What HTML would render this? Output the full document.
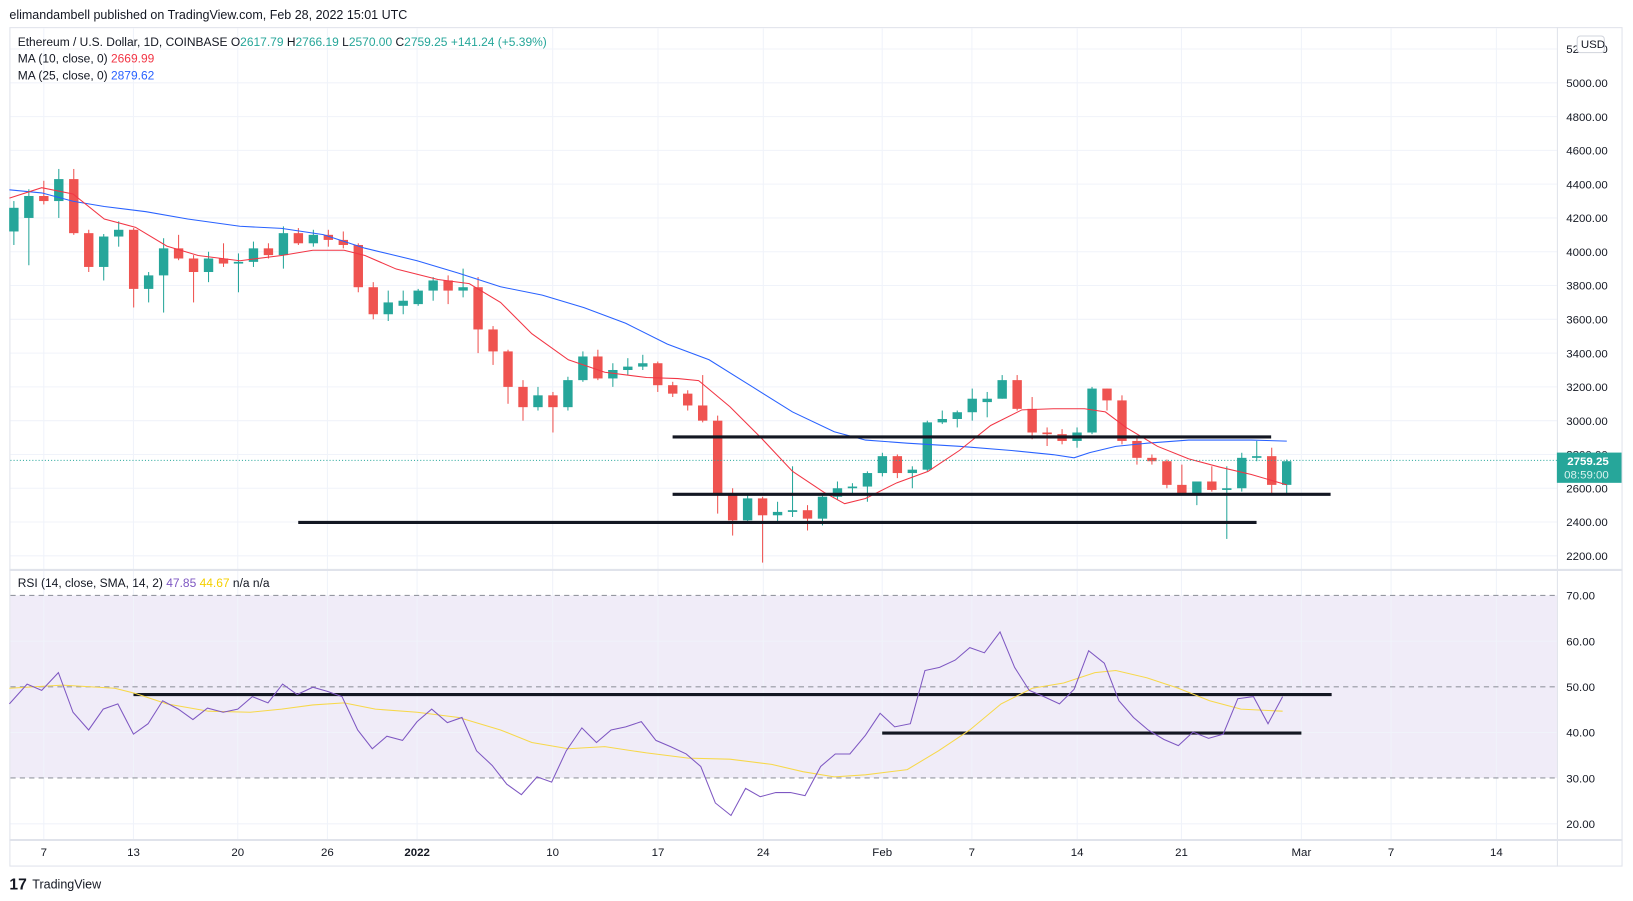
<!DOCTYPE html>
<html><head><meta charset="utf-8"><style>
html,body{margin:0;padding:0;background:#fff;}
svg{display:block;font-family:"Liberation Sans",sans-serif;}
</style></head><body>
<svg id="s" width="1633" height="901" viewBox="0 0 1566 864" preserveAspectRatio="none" xmlns="http://www.w3.org/2000/svg" xml:space="preserve">
<rect width="1566" height="864" fill="#fff"/>
<text x="9" y="18" font-size="12" fill="#131722">elimandambell published on TradingView.com, Feb 28, 2022 15:01 UTC</text>
<rect x="9.5" y="26.5" width="1546" height="804" fill="#fff" stroke="#e0e3eb"/>
<rect x="10" y="571" width="1483" height="175" fill="#f0ecf8"/>
<g id="grid" stroke="#f0f3fa" stroke-width="1"></g>
<line x1="1493.5" y1="26" x2="1493.5" y2="831" stroke="#e0e3eb"/>
<line x1="9" y1="546.5" x2="1556" y2="546.5" stroke="#e0e3eb" stroke-width="2"/>
<line x1="9" y1="805.5" x2="1556" y2="805.5" stroke="#e0e3eb" stroke-width="2"/>
<g stroke="#9598a1" stroke-dasharray="5,4" stroke-width="1">
<line x1="10" y1="571" x2="1493" y2="571"/><line x1="10" y1="658.6" x2="1493" y2="658.6"/><line x1="10" y1="746" x2="1493" y2="746"/>
</g>
<g id="axis" font-size="11" fill="#131722"></g>
<g id="candles"></g>
<polyline fill="none" stroke="#2962ff" stroke-width="1" points="9,182 40,185 70,193 100,198 140,203 180,210 230,217 270,219 310,225 350,238 400,250 440,262 480,275 520,283 560,295 600,310 640,330 680,345 720,370 760,395 800,414 830,422 870,425 920,428 970,432 1010,436 1030,439 1045,434 1070,428 1100,425 1140,422 1200,422 1234,423"/>
<polyline fill="none" stroke="#f23645" stroke-width="1" points="9,190 40,180 70,186 100,210 130,218 160,236 190,245 230,250 270,245 300,240 330,240 350,245 380,258 420,268 450,272 480,290 510,320 545,345 580,357 620,362 650,363 670,365 700,390 730,420 760,452 790,472 810,483 830,478 860,463 890,452 920,432 950,408 980,393 1010,392 1040,392 1060,395 1080,410 1110,428 1140,440 1170,448 1200,455 1234,465"/>
<line x1="10" y1="441.5" x2="1493" y2="441.5" stroke="#26a69a" stroke-dasharray="1,2"/>
<g stroke="#131722" stroke-width="3">
<line x1="645" y1="419" x2="1219" y2="419"/>
<line x1="645" y1="474" x2="1276" y2="474"/>
<line x1="286" y1="501" x2="1205" y2="501"/>
<line x1="128" y1="666" x2="1277" y2="666"/>
<line x1="846" y1="703" x2="1248" y2="703"/>
</g>
<polyline fill="none" stroke="#f7d84a" stroke-width="1" points="9,660 60,657 110,660 130,665 160,675 200,682 240,683 270,680 300,676 330,674 360,680 400,683 440,688 480,700 510,712 545,718 580,716 620,722 660,727 700,728 740,733 770,740 800,745 830,743 870,738 900,720 930,700 960,675 990,660 1020,655 1050,645 1070,643 1100,650 1130,660 1160,672 1190,680 1230,682"/>
<polyline fill="none" stroke="#7e57c2" stroke-width="1" points="9,675 26,656 40,662 56,645 70,683 85,700 99,680 113,675 128,704 142,694 156,672 171,680 185,690 199,679 214,683 228,680 242,668 257,674 271,656 285,666 300,659 314,663 328,668 343,700 357,718 371,706 386,710 400,692 414,680 429,693 443,688 457,720 472,734 486,752 500,762 515,745 529,750 543,720 558,698 572,712 586,700 600,697 615,692 629,710 643,716 658,723 672,735 686,770 701,782 715,756 729,764 744,760 758,760 772,763 787,735 801,723 815,723 830,705 844,684 858,697 873,694 887,643 901,640 916,633 930,621 944,626 959,606 973,640 987,662 1001,668 1016,675 1030,661 1044,624 1059,636 1073,672 1087,688 1101,700 1116,709 1130,715 1144,702 1159,708 1173,704 1187,670 1202,668 1216,694 1230,668"/>
<rect x="1493" y="434" width="62" height="29" fill="#26a69a"/>
<text x="1503" y="446" font-size="11" font-weight="bold" fill="#fff">2759.25</text>
<text x="1500" y="459" font-size="11" fill="#d9f2ef">08:59:00</text>
<rect x="1512.5" y="34.5" width="26" height="16" rx="3" fill="#fff" stroke="#d1d4dc"/>
<text x="1516" y="46" font-size="11" fill="#131722">USD</text>
<text x="17" y="44" font-size="11.5" fill="#131722">Ethereum / U.S. Dollar, 1D, COINBASE  O<tspan fill="#26a69a">2617.79</tspan>  H<tspan fill="#26a69a">2766.19</tspan>  L<tspan fill="#26a69a">2570.00</tspan>  C<tspan fill="#26a69a">2759.25</tspan>  <tspan fill="#26a69a">+141.24 (+5.39%)</tspan></text>
<text x="17" y="60" font-size="11.5" fill="#131722">MA (10, close, 0)  <tspan fill="#f23645">2669.99</tspan></text>
<text x="17" y="76" font-size="11.5" fill="#131722">MA (25, close, 0)  <tspan fill="#2962ff">2879.62</tspan></text>
<text x="17" y="563" font-size="11.5" fill="#131722">RSI (14, close, SMA, 14, 2)  <tspan fill="#7e57c2">47.85</tspan>  <tspan fill="#f5d000">44.67</tspan>  n/a  n/a</text>
<text x="9" y="853" font-size="15" font-weight="bold" fill="#131722">17</text>
<text x="31" y="852" font-size="12" fill="#131722">TradingView</text>
<script>
var NS="http://www.w3.org/2000/svg";
function el(p,t,a,txt){var e=document.createElementNS(NS,t);for(var k in a)e.setAttribute(k,a[k]);if(txt)e.textContent=txt;p.appendChild(e);return e;}
function py(p){return 533-(p-2200)*0.162;}
function ry(r){return 790-(r-20)*4.38;}
var g=document.getElementById('grid'),ax=document.getElementById('axis');
for(var p=2200;p<=5200;p+=200){var y=py(p);el(g,'line',{x1:10,y1:y,x2:1493,y2:y});el(ax,'text',{x:1502,y:y+4},p.toFixed(2));}
[20,40,60].forEach(function(r){var y=ry(r);el(g,'line',{x1:10,y1:y,x2:1493,y2:y});});
[20,30,40,50,60,70].forEach(function(r){el(ax,'text',{x:1502,y:ry(r)+4},r.toFixed(2));});
var dates=[[42,'7'],[128,'13'],[228,'20'],[314,'26'],[400,'2022'],[530,'10'],[631,'17'],[732,'24'],[846,'Feb'],[932,'7'],[1033,'14'],[1133,'21'],[1248,'Mar'],[1334,'7'],[1435,'14']];
dates.forEach(function(d){el(g,'line',{x1:d[0],y1:27,x2:d[0],y2:805});var t=el(ax,'text',{x:d[0],y:821,'text-anchor':'middle'},d[1]);if(d[1]=='2022')t.setAttribute('font-weight','bold');});
var C=[[4120,4300,4040,4260],[4200,4370,3920,4330],[4330,4420,4280,4300],[4300,4490,4200,4430],[4430,4490,4100,4110],[4110,4130,3880,3910],[3910,4105,3830,4090],[4090,4180,4030,4130],[4130,4140,3670,3780],[3780,3880,3700,3860],[3860,4080,3640,4020],[4020,4100,3950,3960],[3960,3980,3700,3880],[3880,4000,3820,3960],[3960,4050,3910,3930],[3930,3990,3760,3940],[3940,4060,3910,4020],[4020,4050,3960,3980],[3980,4150,3900,4110],[4110,4140,4040,4050],[4050,4130,4030,4100],[4100,4130,4030,4070],[4070,4120,4020,4040],[4040,4050,3760,3790],[3790,3820,3600,3630],[3630,3770,3590,3700],[3680,3770,3630,3710],[3690,3780,3680,3770],[3770,3850,3710,3830],[3830,3860,3690,3770],[3770,3900,3730,3790],[3790,3850,3400,3540],[3540,3560,3330,3410],[3410,3420,3100,3200],[3200,3240,3000,3080],[3080,3200,3060,3150],[3150,3170,2930,3080],[3080,3260,3060,3240],[3240,3410,3230,3380],[3380,3420,3240,3250],[3250,3340,3200,3300],[3300,3370,3270,3320],[3320,3390,3300,3340],[3340,3350,3170,3210],[3210,3230,3140,3160],[3160,3180,3060,3090],[3090,3270,2990,3000],[3000,3030,2450,2560],[2560,2600,2320,2410],[2410,2560,2400,2540],[2540,2550,2160,2440],[2440,2520,2400,2460],[2460,2730,2430,2470],[2470,2500,2350,2420],[2420,2570,2380,2550],[2550,2640,2530,2600],[2600,2630,2560,2610],[2610,2700,2520,2690],[2690,2810,2670,2790],[2790,2800,2660,2690],[2690,2730,2600,2710],[2710,3000,2700,2990],[2990,3060,2980,3010],[3010,3060,2960,3050],[3050,3190,3000,3130],[3110,3170,3020,3130],[3130,3270,3130,3240],[3240,3270,3060,3070],[3070,3140,2890,2930],[2930,2960,2850,2920],[2920,2950,2860,2880],[2880,2960,2840,2930],[2930,3200,2920,3190],[3190,3190,3060,3120],[3120,3150,2860,2880],[2880,2900,2740,2780],[2780,2800,2740,2760],[2760,2770,2600,2620],[2620,2740,2570,2570],[2570,2640,2500,2640],[2640,2730,2580,2590],[2590,2730,2300,2600],[2600,2810,2580,2780],[2780,2880,2760,2790],[2790,2840,2570,2620],[2620,2770,2570,2760]];
var cg=document.getElementById('candles');
C.forEach(function(c,i){var x=13.3+i*14.36;var up=c[3]>=c[0];var col=up?'#26a69a':'#ef5350';
el(cg,'line',{x1:x,y1:py(c[1]),x2:x,y2:py(c[2]),stroke:col,'stroke-width':1});
var t=py(Math.max(c[0],c[3])),b=py(Math.min(c[0],c[3]));el(cg,'rect',{x:x-4.5,y:t,width:9,height:Math.max(1,b-t),fill:col});});
</script>
</svg>
</body></html>
